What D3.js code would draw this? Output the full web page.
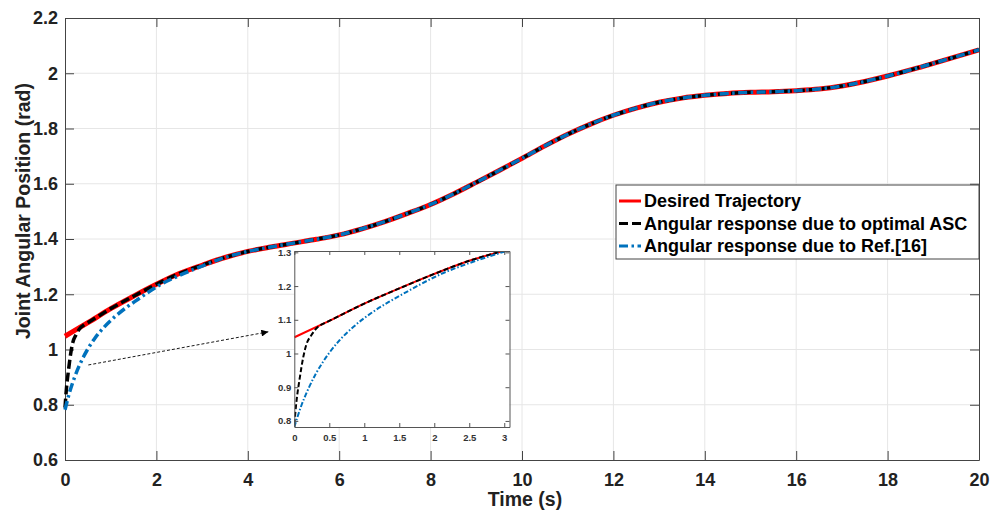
<!DOCTYPE html>
<html>
<head>
<meta charset="utf-8">
<script src="https://cdn.jsdelivr.net/npm/d3@7"></script>
<style>
  body { margin: 0; background: #fff; }
  svg { display: block; font-family: "Liberation Sans", Arial, sans-serif; }
</style>
</head>
<body>
<svg id="chart" width="991" height="511"></svg>
<script>
// values: [time (s), angle (rad)]
const desired = [
  [0, 1.048], [0.5, 1.097], [1, 1.148], [1.5, 1.193], [2, 1.236], [2.5, 1.275],
  [3, 1.305], [3.5, 1.333], [4, 1.355], [4.5, 1.371], [5, 1.385], [5.5, 1.399],
  [6, 1.415], [6.5, 1.437], [7, 1.463], [7.5, 1.493], [8, 1.525], [8.5, 1.563],
  [9, 1.605], [9.5, 1.648], [10, 1.692], [10.5, 1.737], [11, 1.779], [11.5, 1.816],
  [12, 1.848], [12.5, 1.874], [13, 1.895], [13.5, 1.91], [14, 1.92], [14.5, 1.927],
  [15, 1.931], [15.5, 1.933], [16, 1.937], [16.5, 1.943], [17, 1.954], [17.5, 1.97],
  [18, 1.99], [18.5, 2.012], [19, 2.036], [19.5, 2.06], [20, 2.085]
];
// optimal ASC: fast transient, then on top of the desired path
const ascStart = [
  [0, 0.79], [0.03, 0.856], [0.077, 0.926], [0.124, 0.985], [0.17, 1.025],
  [0.243, 1.054], [0.34, 1.079], [0.4, 1.087], [0.5, 1.097]
];
// Ref.[16]: slower transient
const refStart = [
  [0, 0.782], [0.1, 0.845], [0.2, 0.895], [0.3, 0.937], [0.4, 0.972], [0.5, 1.002],
  [0.65, 1.04], [0.85, 1.08], [1.1, 1.12], [1.35, 1.153], [1.6, 1.182], [1.8, 1.205],
  [2.1, 1.236], [2.5, 1.268], [3, 1.302]
];
const ascResponse = ascStart.concat(desired.filter(d => d[0] > 0.5));
const refResponse = refStart.concat(desired.filter(d => d[0] > 3));

const xTicks = [0, 2, 4, 6, 8, 10, 12, 14, 16, 18, 20];
const yTicks = [0.6, 0.8, 1, 1.2, 1.4, 1.6, 1.8, 2, 2.2];
const insetXTicks = [0, 0.5, 1, 1.5, 2, 2.5, 3];
const insetYTicks = [0.8, 0.9, 1, 1.1, 1.2, 1.3];
const legendLabels = ['Desired Trajectory', 'Angular response due to optimal ASC', 'Angular response due to Ref.[16]'];

const svg = d3.select('#chart');
const fmt = d => String(+d.toFixed(2));

const x = d3.scaleLinear().domain([0, 20]).range([65, 979]);
const y = d3.scaleLinear().domain([0.6, 2.2]).range([460, 18]);

const series = [
  { data: desired, color: '#ff0000', width: 5, dash: null, insetDash: null },
  { data: ascResponse, color: '#000000', width: 3.5, dash: '9,4', insetDash: '5,2.5' },
  { data: refResponse, color: '#0072bd', width: 3.5, dash: '9,3.5,2.5,3.5', insetDash: '5,2,1.5,2' }
];

// grid
const grid = svg.append('g').attr('stroke', '#e6e6e6').attr('stroke-width', 1);
grid.selectAll('.gx').data(xTicks.slice(1, -1)).join('line')
  .attr('x1', d => x(d)).attr('x2', d => x(d)).attr('y1', 18).attr('y2', 460);
grid.selectAll('.gy').data(yTicks.slice(1, -1)).join('line')
  .attr('y1', d => y(d)).attr('y2', d => y(d)).attr('x1', 65).attr('x2', 979);

// axes (box with inward ticks all round)
svg.append('g').attr('transform', 'translate(0,460)')
  .call(d3.axisBottom(x).tickValues(xTicks).tickFormat(fmt).tickSizeInner(-9).tickSizeOuter(0).tickPadding(13));
svg.append('g').attr('transform', 'translate(0,18)')
  .call(d3.axisTop(x).tickValues(xTicks).tickFormat('').tickSizeInner(-9).tickSizeOuter(0));
svg.append('g').attr('transform', 'translate(65,0)')
  .call(d3.axisLeft(y).tickValues(yTicks).tickFormat(fmt).tickSizeInner(-9).tickSizeOuter(0).tickPadding(7));
svg.append('g').attr('transform', 'translate(979,0)')
  .call(d3.axisRight(y).tickValues(yTicks).tickFormat('').tickSizeInner(-9).tickSizeOuter(0));

svg.selectAll('.domain').attr('stroke', '#444');
svg.selectAll('.tick line').attr('stroke', '#444');
svg.selectAll('.tick text').attr('font-size', 18).attr('font-weight', 'bold')
  .attr('fill', '#222').attr('font-family', '"Liberation Sans", Arial, sans-serif');

// lines
const line = d3.line().x(d => x(d[0])).y(d => y(d[1])).curve(d3.curveMonotoneX);
series.forEach(s => {
  svg.append('path').datum(s.data)
    .attr('fill', 'none').attr('stroke', s.color).attr('stroke-width', s.width)
    .attr('stroke-dasharray', s.dash).attr('d', line);
});

// axis titles
svg.append('text').attr('x', 525).attr('y', 506).attr('text-anchor', 'middle')
  .attr('font-size', 19.5).attr('font-weight', 'bold').attr('fill', '#222').text('Time (s)');
svg.append('text').attr('transform', 'translate(30,211) rotate(-90)').attr('text-anchor', 'middle')
  .attr('font-size', 19.5).attr('font-weight', 'bold').attr('fill', '#222').text('Joint Angular Position (rad)');

// arrow pointing at the zoomed view
svg.append('defs').append('marker').attr('id', 'head')
  .attr('viewBox', '0 0 10 10').attr('refX', 10).attr('refY', 5)
  .attr('markerWidth', 9).attr('markerHeight', 7).attr('markerUnits', 'userSpaceOnUse')
  .attr('orient', 'auto')
  .append('path').attr('d', 'M0,0L10,5L0,10z').attr('fill', '#000');
svg.append('line')
  .attr('x1', x(0.51)).attr('y1', y(0.944)).attr('x2', x(4.45)).attr('y2', y(1.064))
  .attr('stroke', '#000').attr('stroke-width', 0.9).attr('stroke-dasharray', '3,2')
  .attr('marker-end', 'url(#head)');

// legend
const lg = svg.append('g');
lg.append('rect').attr('x', 616).attr('y', 185).attr('width', 363).attr('height', 74)
  .attr('fill', '#fff').attr('stroke', '#444').attr('stroke-width', 1);
legendLabels.forEach((lab, i) => {
  const ly = 201 + i * 22.5;
  lg.append('line').attr('x1', 619).attr('x2', 641).attr('y1', ly).attr('y2', ly)
    .attr('stroke', series[i].color).attr('stroke-width', 3).attr('stroke-dasharray', series[i].dash);
  lg.append('text').attr('x', 644).attr('y', ly).attr('dy', '0.35em')
    .attr('font-size', 18).attr('font-weight', 'bold').attr('fill', '#000').text(lab);
});

// inset
const ix = d3.scaleLinear().domain([0, 3.075]).range([294.3, 509.5]);
const iy = d3.scaleLinear().domain([0.782, 1.304]).range([427, 251]);
const inset = svg.append('g');
inset.append('rect').attr('x', 294.3).attr('y', 251).attr('width', 215.2).attr('height', 176).attr('fill', '#fff');
inset.append('clipPath').attr('id', 'insetClip').append('rect')
  .attr('x', 294.3).attr('y', 251).attr('width', 215.2).attr('height', 176);
const iline = d3.line().x(d => ix(d[0])).y(d => iy(d[1])).curve(d3.curveMonotoneX);
const il = inset.append('g').attr('clip-path', 'url(#insetClip)');
series.forEach(s => {
  il.append('path').datum(s.data.filter(d => d[0] <= 3.6))
    .attr('fill', 'none').attr('stroke', s.color).attr('stroke-width', 2)
    .attr('stroke-dasharray', s.insetDash).attr('d', iline);
});
const iax = inset.append('g');
iax.append('g').attr('transform', 'translate(0,427)')
  .call(d3.axisBottom(ix).tickValues(insetXTicks).tickFormat(fmt).tickSizeInner(-4).tickSizeOuter(0).tickPadding(7));
iax.append('g').attr('transform', 'translate(0,251)')
  .call(d3.axisTop(ix).tickValues(insetXTicks).tickFormat('').tickSizeInner(-4).tickSizeOuter(0));
iax.append('g').attr('transform', 'translate(294.3,0)')
  .call(d3.axisLeft(iy).tickValues(insetYTicks).tickFormat(fmt).tickSizeInner(-4).tickSizeOuter(0).tickPadding(3));
iax.append('g').attr('transform', 'translate(509.5,0)')
  .call(d3.axisRight(iy).tickValues(insetYTicks).tickFormat('').tickSizeInner(-4).tickSizeOuter(0));
iax.selectAll('.domain').attr('stroke', '#555');
iax.selectAll('.tick line').attr('stroke', '#555');
iax.selectAll('.tick text').attr('font-size', 9.5).attr('font-weight', 'bold').attr('fill', '#333')
  .attr('font-family', '"Liberation Sans", Arial, sans-serif');
</script>
</body>
</html>
